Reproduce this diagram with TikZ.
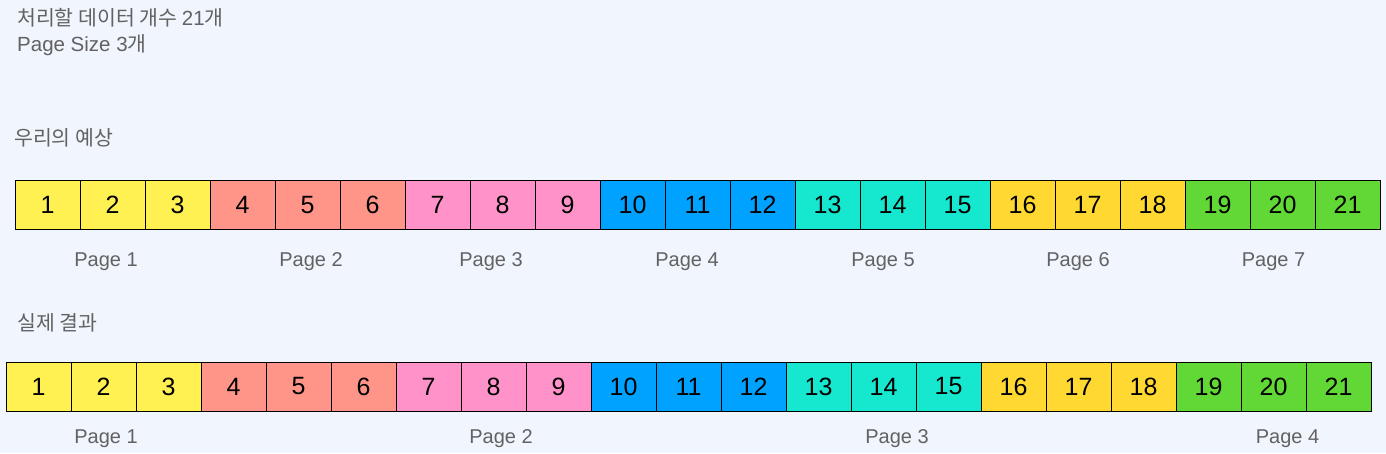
\documentclass[tikz,border=0pt]{standalone}
\usepackage{fontspec}
\setmainfont{Liberation Sans}
\newfontfamily\kr{Noto Sans CJK KR}
\definecolor{bg}{HTML}{F1F5FE}
\definecolor{lbl}{HTML}{626262}
\definecolor{c1}{HTML}{FFF152}
\definecolor{c2}{HTML}{FF9588}
\definecolor{c3}{HTML}{FF93C9}
\definecolor{c4}{HTML}{00A2FF}
\definecolor{c5}{HTML}{16E7CF}
\definecolor{c6}{HTML}{FFD932}
\definecolor{c7}{HTML}{61D836}
\tikzset{
  cell/.style={draw=black, line width=1pt, minimum width=65pt, minimum height=49pt,
    inner sep=0pt, outer sep=0pt, text=black, font=\fontsize{25}{25}\selectfont},
  pagelbl/.style={text=lbl, inner sep=0pt, anchor=base, font=\fontsize{20}{20}\selectfont},
  head/.style={text=lbl, inner sep=0pt, anchor=base west, font=\fontsize{20.5}{20.5}\selectfont}
}
\begin{document}
\begin{tikzpicture}[x=1pt,y=-1pt]
\fill[bg] (0,0) rectangle (1386,453);
\useasboundingbox (0,0) rectangle (1386,453);
% headers
\node[head] (h1) at (17,25) {{\kr 처리할 데이터 개수 }21{\kr 개}};
\node[head] (h2) at (17,51.7) {Page Size 3{\kr 개}};
\node[head] (h3) at (14,145) {\kr 우리의 예상};
\node[head] (h4) at (17,330) {\kr 실제 결과};
% rows
\foreach \i in {1,...,21}{
  \pgfmathtruncatemacro\p{int((\i-1)/3)+1}
  \node[cell, fill=c\p] (a\i) at ({15+65*(\i-0.5)},205) {\i};
  \node[cell, fill=c\p] (b\i) at ({6+65*(\i-0.5)},386.5) {\i};
}
% page labels, expected
\foreach \n/\x in {1/106,2/311,3/491,4/687,5/883,6/1078,7/1273.5}{
  \node[pagelbl] (pa\n) at (\x,266.7) {Page \n};
}
% page labels, actual
\foreach \n/\x in {1/106,2/501,3/897,4/1287.5}{
  \node[pagelbl] (pb\n) at (\x,443.3) {Page \n};
}
\end{tikzpicture}
\end{document}
